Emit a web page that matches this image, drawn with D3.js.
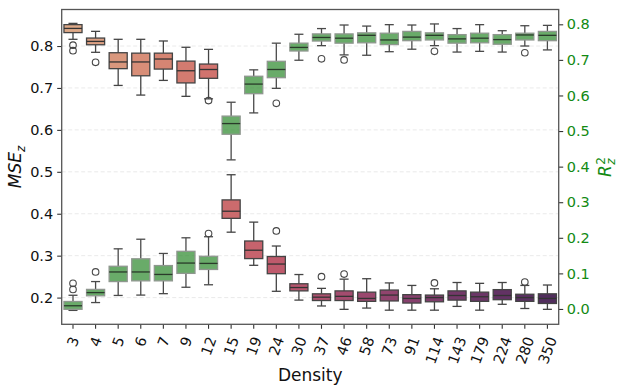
<!DOCTYPE html>
<html>
<head>
<meta charset="utf-8">
<script src="https://cdn.jsdelivr.net/npm/d3@7"></script>
<style>
  html, body { margin: 0; padding: 0; background: #fff; }
  svg { display: block; font-family: "DejaVu Sans", sans-serif; }
</style>
</head>
<body>
<svg id="chart" width="619" height="389"></svg>
<script>
// Categories (node density)
const densities = [3, 4, 5, 6, 7, 9, 12, 15, 19, 24, 30, 37, 46, 58, 73, 91, 114, 143, 179, 224, 280, 350];

// MSE_z box statistics (left axis): whisker low, Q1, median, Q3, whisker high, outliers
const mseLow    = [0.816, 0.785, 0.706, 0.683, 0.718, 0.680, 0.674, 0.356, 0.277, 0.215, 0.194, 0.180, 0.172, 0.175, 0.170, 0.170, 0.170, 0.179, 0.170, 0.184, 0.174, 0.172];
const mseQ1     = [0.832, 0.803, 0.746, 0.729, 0.745, 0.712, 0.723, 0.389, 0.293, 0.257, 0.216, 0.193, 0.193, 0.191, 0.192, 0.187, 0.190, 0.194, 0.191, 0.195, 0.191, 0.186];
const mseMedian = [0.842, 0.811, 0.762, 0.762, 0.769, 0.741, 0.744, 0.406, 0.313, 0.280, 0.224, 0.201, 0.203, 0.198, 0.206, 0.198, 0.200, 0.205, 0.202, 0.205, 0.200, 0.198];
const mseQ3     = [0.851, 0.819, 0.784, 0.783, 0.783, 0.764, 0.757, 0.433, 0.335, 0.298, 0.233, 0.209, 0.216, 0.213, 0.218, 0.207, 0.206, 0.216, 0.213, 0.219, 0.208, 0.209];
const mseHigh   = [0.854, 0.835, 0.816, 0.816, 0.812, 0.797, 0.792, 0.493, 0.380, 0.323, 0.255, 0.222, 0.244, 0.245, 0.235, 0.229, 0.221, 0.236, 0.234, 0.236, 0.229, 0.230];
const mseOutliers = [[0.802, 0.789], [0.761], [], [], [], [], [0.670], [], [], [0.359], [], [0.250], [0.256], [], [], [], [0.235], [], [], [], [0.237], []];

// R^2_z box statistics (right axis)
const r2Low    = [-0.004, 0.018, 0.038, 0.039, 0.043, 0.061, 0.068, 0.419, 0.551, 0.620, 0.699, 0.740, 0.714, 0.713, 0.723, 0.730, 0.740, 0.722, 0.724, 0.722, 0.739, 0.728];
const r2Q1     = [-0.001, 0.037, 0.077, 0.079, 0.079, 0.100, 0.111, 0.491, 0.605, 0.650, 0.725, 0.753, 0.747, 0.748, 0.743, 0.754, 0.756, 0.747, 0.748, 0.744, 0.756, 0.754];
const r2Median = [0.009, 0.046, 0.104, 0.104, 0.097, 0.129, 0.128, 0.521, 0.632, 0.673, 0.735, 0.763, 0.761, 0.769, 0.756, 0.764, 0.769, 0.759, 0.761, 0.757, 0.770, 0.769];
const r2Q3     = [0.021, 0.055, 0.120, 0.141, 0.122, 0.162, 0.148, 0.542, 0.654, 0.696, 0.747, 0.773, 0.773, 0.776, 0.775, 0.780, 0.776, 0.771, 0.775, 0.771, 0.775, 0.780];
const r2High   = [0.0385, 0.077, 0.169, 0.196, 0.156, 0.200, 0.203, 0.581, 0.672, 0.747, 0.772, 0.788, 0.798, 0.795, 0.799, 0.798, 0.801, 0.788, 0.799, 0.782, 0.796, 0.797];
const r2Outliers = [[0.055, 0.072], [0.104], [], [], [], [], [0.212], [], [], [0.578], [], [0.703], [0.700], [], [], [], [0.724], [], [], [], [0.720], []];

// Tick values
const leftTicks  = [0.2, 0.3, 0.4, 0.5, 0.6, 0.7, 0.8];
const rightTicks = [0.0, 0.1, 0.2, 0.3, 0.4, 0.5, 0.6, 0.7, 0.8];

// ---- layout ----
const W = 619, H = 389;
const plot = { left: 61.7, right: 558.7, top: 9.5, bottom: 324.3 };
const FS = 14.5;          // tick label size
const LABEL_FS = 17;      // axis title size

const svg = d3.select("#chart");

const x = d3.scaleBand().domain(densities).range([plot.left, plot.right]).padding(0);
const yL = d3.scaleLinear().domain([0.1363, 0.8871]).range([plot.bottom, plot.top]);
const yR = d3.scaleLinear().domain([-0.0431, 0.8416]).range([plot.bottom, plot.top]);

// flare-like palette, desaturated as box fills usually are
const flareStops = ["#edb081", "#e98d6b", "#e3685c", "#d14a61", "#b13c6c", "#8f3371", "#6c2b6d", "#4b2362"];
const flare = d3.piecewise(d3.interpolateRgb, flareStops);
const msePalette = densities.map((d, i) => {
  const c = d3.hsl(flare((i + 1) / (densities.length + 1)));
  c.s *= 0.75;
  return c.formatHex();
});

// horizontal dashed grid on left ticks
svg.append("g").selectAll("line").data(leftTicks).join("line")
  .attr("x1", plot.left).attr("x2", plot.right)
  .attr("y1", d => yL(d)).attr("y2", d => yL(d))
  .attr("stroke", "#e4e4e4").attr("stroke-width", 0.8)
  .attr("stroke-dasharray", "4,2.5");

// ---- box drawing ----
function drawBoxes(g, y, stats, style) {
  const bw = x.bandwidth() * 0.8;
  densities.forEach((d, i) => {
    const cx = x(d) + x.bandwidth() / 2;
    const s = { lo: stats.lo[i], q1: stats.q1[i], med: stats.med[i], q3: stats.q3[i], hi: stats.hi[i], out: stats.out[i] };
    const bg = g.append("g");
    // whiskers
    bg.append("line").attr("x1", cx).attr("x2", cx).attr("y1", y(s.q3)).attr("y2", y(s.hi))
      .attr("stroke", style.whisker).attr("stroke-width", 1.3);
    bg.append("line").attr("x1", cx).attr("x2", cx).attr("y1", y(s.q1)).attr("y2", y(s.lo))
      .attr("stroke", style.whisker).attr("stroke-width", 1.3);
    // caps
    [s.hi, s.lo].forEach(v => {
      bg.append("line").attr("x1", cx - bw / 4).attr("x2", cx + bw / 4)
        .attr("y1", y(v)).attr("y2", y(v))
        .attr("stroke", style.whisker).attr("stroke-width", 1.3);
    });
    // box
    bg.append("rect")
      .attr("x", cx - bw / 2).attr("width", bw)
      .attr("y", y(s.q3)).attr("height", Math.max(0.5, y(s.q1) - y(s.q3)))
      .attr("fill", style.fill(i)).attr("fill-opacity", style.fillOpacity)
      .attr("stroke", style.edge).attr("stroke-width", 1.3);
    // median
    bg.append("line").attr("x1", cx - bw / 2).attr("x2", cx + bw / 2)
      .attr("y1", y(s.med)).attr("y2", y(s.med))
      .attr("stroke", style.median).attr("stroke-width", 1.3);
    // outliers
    bg.selectAll("circle").data(s.out).join("circle")
      .attr("cx", cx).attr("cy", v => y(v)).attr("r", 3.3)
      .attr("fill", "none").attr("stroke", style.whisker).attr("stroke-width", 1.1);
  });
}

drawBoxes(svg.append("g"), yL,
  { lo: mseLow, q1: mseQ1, med: mseMedian, q3: mseQ3, hi: mseHigh, out: mseOutliers },
  { fill: i => msePalette[i], fillOpacity: 1, edge: "#444444", whisker: "#444444", median: "#333333" });

drawBoxes(svg.append("g"), yR,
  { lo: r2Low, q1: r2Q1, med: r2Median, q3: r2Q3, hi: r2High, out: r2Outliers },
  { fill: () => "#2f8a2f", fillOpacity: 0.72, edge: "#8f978f", whisker: "#4a4a4a", median: "#2a3a2a" });

// ---- axes ----
const leftAxis = svg.append("g").attr("transform", `translate(${plot.left},0)`)
  .call(d3.axisLeft(yL).tickValues(leftTicks).tickFormat(d3.format(".1f")).tickSize(4.5).tickPadding(4));
const rightAxis = svg.append("g").attr("transform", `translate(${plot.right},0)`)
  .call(d3.axisRight(yR).tickValues(rightTicks).tickFormat(d3.format(".1f")).tickSize(4.5).tickPadding(3.5));
const bottomAxis = svg.append("g").attr("transform", `translate(0,${plot.bottom})`)
  .call(d3.axisBottom(x).tickSize(4.5).tickFormat(d => String(d)));

[leftAxis, rightAxis, bottomAxis].forEach(a => {
  a.select(".domain").remove();
  a.selectAll(".tick line").attr("stroke", "#333").attr("stroke-width", 1.1);
  a.selectAll("text").attr("font-size", FS).attr("font-family", "DejaVu Sans");
});
leftAxis.selectAll("text").attr("fill", "#111");
rightAxis.selectAll("text").attr("fill", "#138a13");

// rotated x tick labels: box of rotated text centred on tick, top just below tick
const ANG = 70, rad = ANG * Math.PI / 180;
bottomAxis.selectAll(".tick text").each(function () {
  const t = d3.select(this);
  const w = this.getComputedTextLength();
  const capH = 0.729 * FS;
  const ext = w * Math.sin(rad) + capH * Math.cos(rad);
  const cy = 11.2 + ext / 2;
  t.attr("y", null).attr("dy", "0.36em").attr("text-anchor", "middle")
    .attr("fill", "#111")
    .attr("transform", `translate(0,${cy}) rotate(${-ANG})`);
});

// frame
svg.append("rect")
  .attr("x", plot.left).attr("y", plot.top)
  .attr("width", plot.right - plot.left).attr("height", plot.bottom - plot.top)
  .attr("fill", "none").attr("stroke", "#555").attr("stroke-width", 1.3);

// ---- axis titles ----
svg.append("text")
  .attr("x", (plot.left + plot.right) / 2).attr("y", 381)
  .attr("text-anchor", "middle").attr("font-size", LABEL_FS).attr("fill", "#111")
  .text("Density");

// MSE_z (left)
const lt = svg.append("text")
  .attr("transform", `translate(21,${(plot.top + plot.bottom) / 2}) rotate(-90)`)
  .attr("text-anchor", "middle").attr("font-size", LABEL_FS).attr("fill", "#111")
  .attr("font-style", "italic");
lt.append("tspan").text("MSE");
lt.append("tspan").attr("dy", 3.5).attr("font-size", 12).text("z");

// R^2_z (right)
const rg = svg.append("g")
  .attr("transform", `translate(611,${(plot.top + plot.bottom) / 2}) rotate(-90)`)
  .attr("fill", "#138a13").attr("font-style", "italic");
rg.append("text").attr("x", -10).attr("y", 0).attr("font-size", LABEL_FS).text("R");
rg.append("text").attr("x", 2.2).attr("y", -6.5).attr("font-size", 12).attr("font-style", "normal").text("2");
rg.append("text").attr("x", 2.2).attr("y", 3.5).attr("font-size", 12).text("z");
</script>
</body>
</html>
